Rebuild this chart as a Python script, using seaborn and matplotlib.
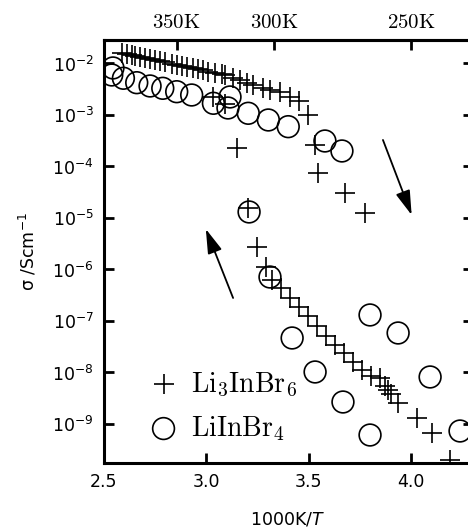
import numpy as np
import pandas as pd
import seaborn as sns
import matplotlib.pyplot as plt
from matplotlib.font_manager import FontProperties
from matplotlib.ticker import NullLocator, FixedLocator

# Li3InBr6 (plus markers): 1000K/T and log10(sigma / S cm-1)
li3_x = [2.589, 2.613, 2.638, 2.654, 2.678, 2.702, 2.727, 2.751, 2.776, 2.800,
         2.833, 2.857, 2.881, 2.909, 2.935, 2.962, 2.987, 3.011, 3.044, 3.077,
         3.093, 3.132, 3.166, 3.200, 3.229, 3.278, 3.312, 3.361, 3.410, 3.454,
         3.498, 3.034, 3.093,
         3.150, 3.532, 3.548, 3.678, 3.776, 3.206, 3.247,
         3.293, 3.322, 3.366, 3.410, 3.454, 3.498, 3.541, 3.585, 3.629, 3.673,
         3.717, 3.761, 3.805, 3.849, 3.873, 3.888, 3.902, 3.937, 4.029, 4.102,
         4.190]
li3_logs = [-1.804, -1.823, -1.843, -1.856, -1.876, -1.895, -1.917, -1.936, -1.955, -1.975,
            -2.002, -2.021, -2.041, -2.064, -2.085, -2.109, -2.128, -2.165, -2.184, -2.214,
            -2.223, -2.280, -2.320, -2.380, -2.420, -2.480, -2.510, -2.550, -2.650, -2.730,
            -3.000, -2.650, -2.780,
            -3.647, -3.583, -4.132, -4.520, -4.909, -4.812, -5.557,
            -5.951, -6.204, -6.359, -6.553, -6.728, -6.903, -7.097, -7.291, -7.466, -7.621,
            -7.796, -7.951, -8.068, -8.107, -8.262, -8.340, -8.417, -8.592, -8.883, -9.175,
            -9.699]

# LiInBr4 (open circles)
li1_x = [2.540, 2.546, 2.597, 2.662, 2.727, 2.789, 2.857, 2.930, 3.036, 3.117,
         3.107, 3.206, 3.304, 3.401, 3.580, 3.663,
         3.210, 3.312, 3.420, 3.532, 3.668, 3.800, 3.800, 3.937, 4.093, 4.239]
li1_logs = [-2.223, -2.087, -2.287, -2.373, -2.437, -2.482, -2.548, -2.612, -2.773, -2.650,
            -2.864, -2.967, -3.097, -3.227, -3.505, -3.699,
            -4.883, -6.146, -7.330, -7.990, -8.573, -6.883, -9.214, -7.233, -8.087, -9.136]

x_ticks = [2.5, 3.0, 3.5, 4.0]
y_decades = [-2, -3, -4, -5, -6, -7, -8, -9]
top_temps = [350, 300, 250]
legend_names = [r"$\mathrm{Li_3InBr_6}$", r"$\mathrm{LiInBr_4}$"]

df_li3 = pd.DataFrame({"invT": li3_x, "sigma": np.power(10.0, li3_logs)})
df_li1 = pd.DataFrame({"invT": li1_x, "sigma": np.power(10.0, li1_logs)})

sns.set_style("ticks")
plt.rcParams["font.family"] = ["DejaVu Sans"]
for key in ["text.color", "axes.labelcolor", "xtick.color", "ytick.color", "axes.edgecolor"]:
    plt.rcParams[key] = "black"

fig = plt.figure(figsize=(4.68, 5.29), dpi=100)
ax = fig.add_axes([0.2212, 0.1248, 0.7885, 0.7996])

sns.scatterplot(data=df_li3, x="invT", y="sigma", marker="+", s=210,
                color="black", linewidth=1.2, ax=ax, label=legend_names[0])
sns.scatterplot(data=df_li1, x="invT", y="sigma", marker="o", s=245,
                facecolor="none", edgecolor="black", linewidth=1.2, ax=ax,
                label=legend_names[1])

ax.set_yscale("log")
ax.set_xlim(2.5, 4.3)
ax.set_ylim(10 ** -9.757, 10 ** -1.544)
ax.set_xticks(x_ticks)
ax.set_xticklabels([f"{t:.1f}" for t in x_ticks])
ax.yaxis.set_major_locator(FixedLocator([10.0 ** d for d in y_decades]))
ax.yaxis.set_minor_locator(NullLocator())
ax.tick_params(axis="both", direction="in", length=7, width=2.0,
               labelsize=12.5, pad=7, right=True)
for s in ax.spines.values():
    s.set_linewidth(2.2)

ax.set_xlabel("1000K/$T$", fontsize=12.5, labelpad=14)
ax.set_ylabel("σ /Scm$^{-1}$", fontsize=12.5, labelpad=10)

secax = ax.secondary_xaxis("top")
secax.set_xticks([1000.0 / t for t in top_temps])
secax.set_xticklabels([rf"$\mathrm{{{t}K}}$" for t in top_temps],
                      math_fontfamily="cm", fontsize=15)
secax.tick_params(direction="in", length=7, width=2.0, pad=6)
secax.spines["top"].set_linewidth(2.2)

arrow = dict(arrowstyle="-|>,head_length=0.6,head_width=0.18", color="black",
             lw=1.3, mutation_scale=25, shrinkA=0, shrinkB=0)
ax.annotate("", xy=(4.003, 10 ** -4.942), xytext=(3.863, 10 ** -3.485), arrowprops=arrow)
ax.annotate("", xy=(2.999, 10 ** -5.214), xytext=(3.132, 10 ** -6.553), arrowprops=arrow)

ax.legend(loc="lower left", bbox_to_anchor=(0.125, 0.048), frameon=False,
          prop=FontProperties(size=20, math_fontfamily="cm"),
          handlelength=1.0, handletextpad=0.5, borderaxespad=0, borderpad=0,
          labelspacing=0.55)

fig.savefig("out.png", dpi=100)
